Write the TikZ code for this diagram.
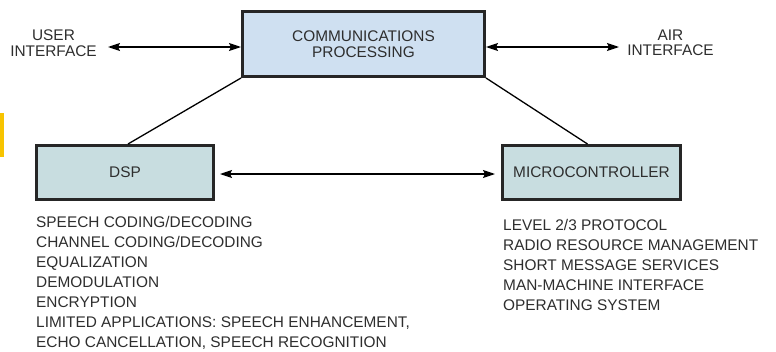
\documentclass[tikz,border=0pt]{standalone}
\usepackage{fontspec}
\setmainfont{Liberation Sans}
\usetikzlibrary{arrows.meta,calc}
\definecolor{txt}{HTML}{2E2E2E}
\definecolor{commfill}{HTML}{CFE0F1}
\definecolor{procfill}{HTML}{C8DDE0}
\definecolor{edge}{HTML}{262626}
\definecolor{gold}{HTML}{F7C400}
\begin{document}
\begin{tikzpicture}[x=1pt,y=-1pt,
  lbl/.style={font=\fontsize{15.4}{15.5}\selectfont, text=txt, align=center, inner sep=0pt},
  box/.style={draw=edge, line width=3pt, inner sep=0pt, font=\fontsize{15.4}{15.5}\selectfont, text=txt, align=center},
  list/.style={font=\fontsize{15.4}{20}\selectfont, text=txt, align=left, anchor=north west, inner sep=0pt},
  link/.style={line width=1.3pt, draw=black},
  tip/.tip={Stealth[length=12pt,width=8pt,inset=2pt]},
  dbl/.style={link, tip-tip}
]
\fill[white] (0,0) rectangle (776,351);
\useasboundingbox (0,0) rectangle (776,351);
\fill[gold] (0,113) rectangle (3.5,157);

\node[box, fill=commfill, minimum width=242pt, minimum height=65pt] (comm) at (363.5,44) {COMMUNICATIONS\\PROCESSING};
\node[box, fill=procfill, minimum width=177pt, minimum height=54pt] (dsp) at (125,172.5) {DSP};
\node[box, fill=procfill, minimum width=178pt, minimum height=54pt] (mcu) at (591.5,172.5) {MICROCONTROLLER};

\node[lbl] (ui) at (53.5,43) {USER\\INTERFACE};
\node[lbl] (air) at (670.5,43) {AIR\\INTERFACE};

\coordinate (uiend) at (108,47);
\coordinate (airend) at (619,47);
\draw[dbl] (uiend) -- (uiend -| comm.west);
\draw[dbl] (comm.east |- airend) -- (airend);
\draw[dbl] ([xshift=5pt,yshift=-1.5pt]dsp.east) -- ([xshift=-6pt,yshift=-1.5pt]mcu.west);

\draw[link] (comm.south west) -- ([xshift=3pt]dsp.north);
\draw[link] (comm.south east) -- ([xshift=-4pt]mcu.north);

\node[list] (dsplist) at (36,216) {SPEECH CODING/DECODING\\CHANNEL CODING/DECODING\\EQUALIZATION\\DEMODULATION\\ENCRYPTION\\LIMITED APPLICATIONS: SPEECH ENHANCEMENT,\\ECHO CANCELLATION, SPEECH RECOGNITION};
\node[list] (mculist) at (503,219) {LEVEL 2/3 PROTOCOL\\RADIO RESOURCE MANAGEMENT\\SHORT MESSAGE SERVICES\\MAN-MACHINE INTERFACE\\OPERATING SYSTEM};
\end{tikzpicture}
\end{document}
